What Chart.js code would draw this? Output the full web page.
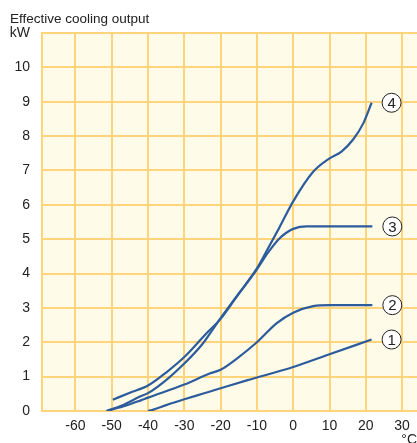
<!DOCTYPE html>
<html lang="en">
<head>
<meta charset="UTF-8">
<title>Effective cooling output</title>
<script src="https://cdn.jsdelivr.net/npm/chart.js"></script>
<style>
    body { margin: 0; background: #ffffff; }
    #wrap { width: 417px; height: 443px; }
</style>
</head>
<body>
<div id="wrap"><canvas id="coolChart"></canvas></div>
<script>
    // curve 1
    const temp1 = [-40, -38.5, -35, -30, -25, -20, -12.8, 0, 10, 21.6];
    const kw1   = [0, 0.04, 0.17, 0.34, 0.5, 0.66, 0.89, 1.28, 1.65, 2.08];
    // curve 2
    const temp2 = [-51.4, -46, -42, -40, -30, -23, -20, -15.6, -10, -4.6, 0, 5.5, 10, 21.8];
    const kw2   = [0, 0.16, 0.31, 0.39, 0.77, 1.09, 1.2, 1.52, 2.0, 2.55, 2.86, 3.05, 3.08, 3.08];
    // curve 3
    const temp3 = [-49.7, -45, -40, -35, -30, -24, -20, -15.6, -10, -7, -4, -2, 0, 3.7, 21.8];
    const kw3   = [0.33, 0.53, 0.74, 1.12, 1.57, 2.25, 2.68, 3.32, 4.12, 4.6, 5.0, 5.18, 5.3, 5.37, 5.37];
    // curve 4
    const temp4 = [-51.4, -47, -42.2, -40, -35, -30, -25, -22, -20, -15, -10, -7, -4, 0, 5.5, 10, 13.3, 16.5, 19.3, 21.6];
    const kw4   = [0, 0.17, 0.42, 0.52, 0.9, 1.38, 1.95, 2.4, 2.7, 3.42, 4.15, 4.72, 5.3, 6.1, 6.96, 7.35, 7.55, 7.9, 8.37, 8.97];

    const curveNames = ['1', '2', '3', '4'];
    const yUnit = 'kW';
    const xUnit = '°C';
    const titleText = 'Effective cooling output';

    const FONT = "'Liberation Sans', Arial, sans-serif";
    const GRID = '#ffd47a';
    const LINE = '#2c5c9c';

    function pairs(xs, ys) {
        return xs.map((v, i) => ({ x: v, y: ys[i] }));
    }

    // cream fill behind the plot
    const areaFill = {
        id: 'areaFill',
        beforeDraw(chart) {
            const { ctx, chartArea: a } = chart;
            ctx.save();
            ctx.fillStyle = '#fffbe9';
            ctx.fillRect(a.left, a.top, a.right - a.left, a.bottom - a.top);
            ctx.restore();
        }
    };

    // circled curve numbers at the end of each line
    const curveTags = {
        id: 'curveTags',
        afterDatasetsDraw(chart) {
            const { ctx, scales: { x, y } } = chart;
            ctx.save();
            chart.data.datasets.forEach(ds => {
                const last = ds.data[ds.data.length - 1];
                const cx = x.getPixelForValue(last.x + 5.5);
                const cy = y.getPixelForValue(last.y);
                ctx.beginPath();
                ctx.arc(cx, cy, 9.5, 0, Math.PI * 2);
                ctx.fillStyle = '#ffffff';
                ctx.fill();
                ctx.lineWidth = 1;
                ctx.strokeStyle = '#222222';
                ctx.stroke();
                ctx.fillStyle = '#222222';
                ctx.font = '15px ' + FONT;
                ctx.textAlign = 'center';
                ctx.textBaseline = 'middle';
                ctx.fillText(ds.label, cx, cy + 1);
            });
            ctx.restore();
        }
    };

    const series = [pairs(temp1, kw1), pairs(temp2, kw2), pairs(temp3, kw3), pairs(temp4, kw4)];

    new Chart(document.getElementById('coolChart'), {
        type: 'line',
        data: {
            datasets: series.map((d, i) => ({
                label: curveNames[i],
                data: d,
                borderColor: LINE,
                borderWidth: 2.2,
                pointRadius: 0,
                cubicInterpolationMode: 'monotone',
                fill: false
            }))
        },
        options: {
            responsive: true,
            maintainAspectRatio: false,
            animation: false,
            layout: { padding: { left: 10, right: 0, top: 0, bottom: 0 } },
            plugins: {
                legend: { display: false },
                tooltip: { enabled: false },
                title: {
                    display: true,
                    text: titleText,
                    align: 'start',
                    color: '#222222',
                    font: { family: FONT, size: 13.5, weight: 'normal' },
                    padding: { top: 11, bottom: 5.8 }
                }
            },
            scales: {
                x: {
                    type: 'linear',
                    min: -69.2,
                    max: 34.1,
                    afterFit(scale) { scale.height = 32; },
                    grid: { color: GRID, lineWidth: 2, drawTicks: false },
                    border: { display: false },
                    ticks: {
                        stepSize: 10,
                        includeBounds: false,
                        padding: 7,
                        color: '#222222',
                        font: { family: FONT, size: 14 }
                    },
                    title: {
                        display: true,
                        text: xUnit,
                        align: 'end',
                        color: '#222222',
                        font: { family: FONT, size: 14 },
                        padding: { top: 0, bottom: -6 }
                    }
                },
                y: {
                    min: 0,
                    max: 11,
                    afterFit(scale) { scale.width = 32; },
                    grid: { color: GRID, lineWidth: 2, drawTicks: false },
                    border: { display: true, color: GRID, width: 2 },
                    ticks: {
                        stepSize: 1,
                        padding: 12,
                        color: '#222222',
                        font: { family: FONT, size: 14 },
                        callback: v => (v === 11 ? yUnit : v)
                    }
                }
            }
        },
        plugins: [areaFill, curveTags]
    });
</script>
</body>
</html>
